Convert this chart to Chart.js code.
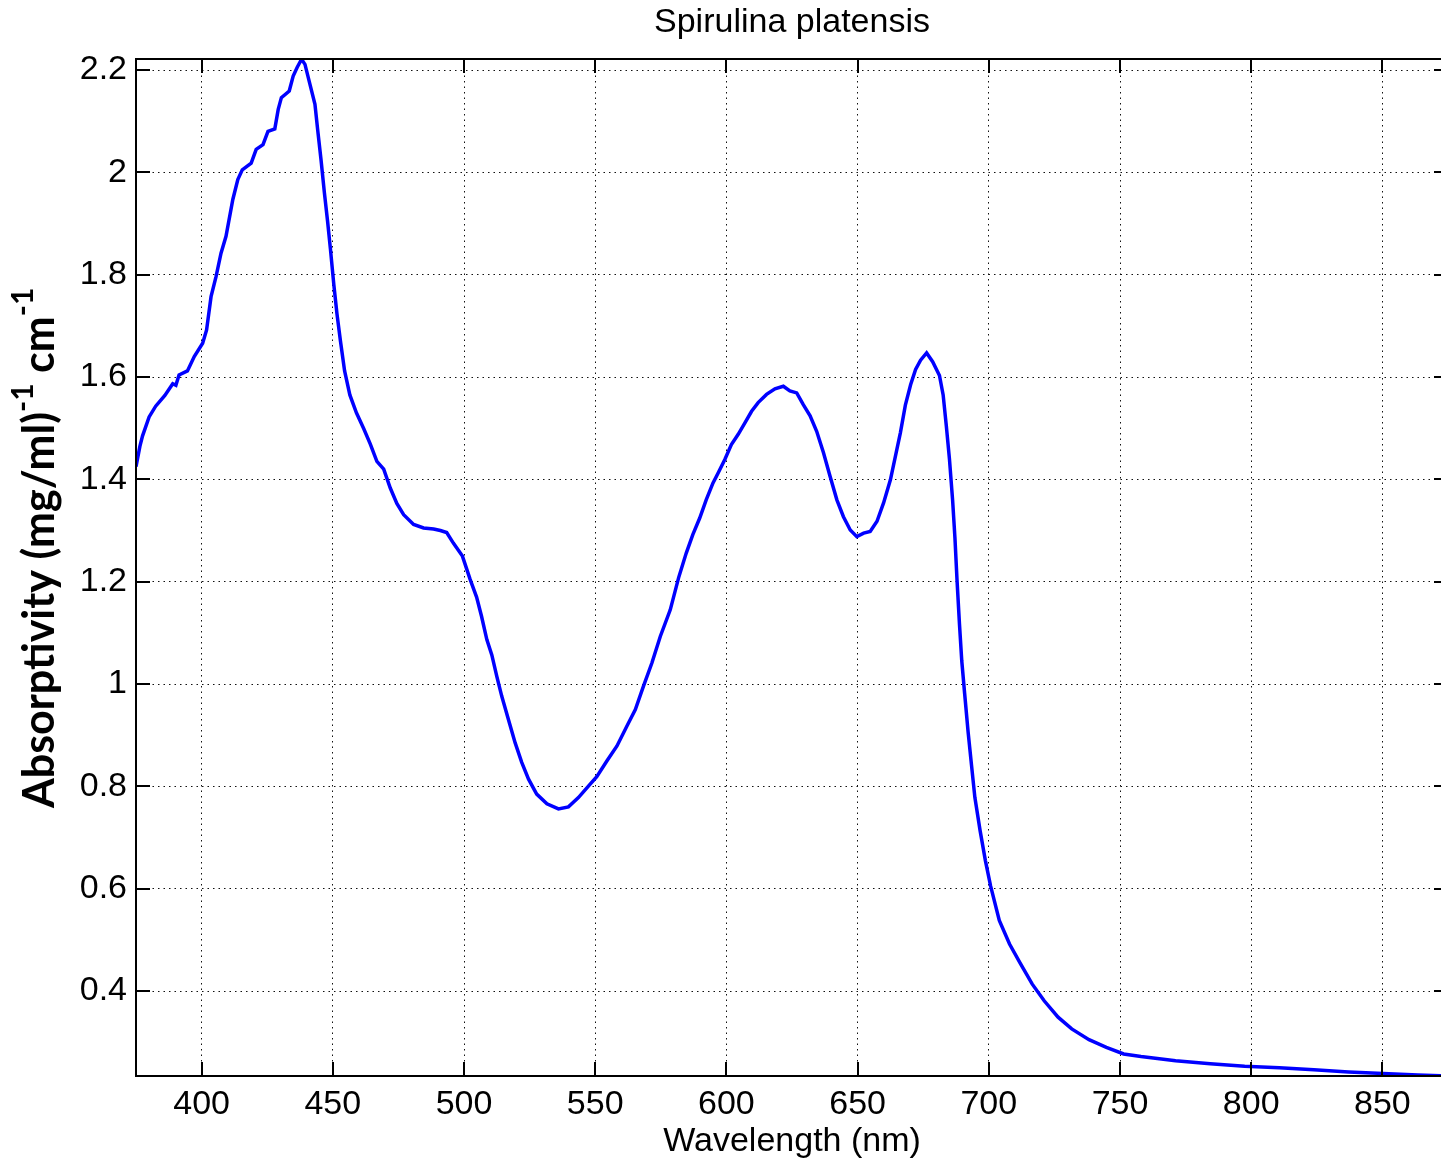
<!DOCTYPE html>
<html>
<head>
<meta charset="utf-8">
<title>Spirulina platensis</title>
<script src="https://cdn.jsdelivr.net/npm/chart.js@4.4.1/dist/chart.umd.min.js"></script>
<style>
  html, body { margin: 0; padding: 0; background: #fff; overflow: hidden; }
  #wrap { position: relative; width: 1460px; height: 1164px; }
</style>
</head>
<body>
<div id="wrap"><canvas id="spectrum"></canvas></div>
<script>
// absorption spectrum, wavelength in nm
const wavelength = [
  375, 376.5, 377.5, 380, 382.5, 386, 389, 390.2, 391.4, 394.6, 397.2, 400.4, 401.9, 403.6, 405.5,
  407.4, 409.3, 411.9, 413.8, 415.5, 418.9, 420.8, 423.4, 425.3, 427.9, 429.2, 430.4, 433.4, 434.9,
  436.4, 438.1, 439.4, 441.3, 443.2, 444.3, 445.5, 446.8, 448, 449.1, 450.4, 451.6, 452.9, 454.5,
  456.5, 459, 461.8, 464.3, 466.8, 469.4, 471.9, 474.4, 477, 480.8, 484.6, 488.4, 491, 493.4, 496,
  499.4, 502.3, 504.8, 506.7, 508.7, 510.6, 512.5, 514.4, 516.9, 519.5, 522, 524.6, 527.7, 531.6,
  536, 539.8, 543.6, 547.5, 550.6, 554.5, 558.3, 562.1, 565.3, 568.4, 571.6, 574.8, 578.6, 581.8,
  584.7, 587.2, 589.8, 592.3, 594.9, 596.8, 599.4, 601.9, 604.5, 607, 609.6, 612.1, 615.3, 618.5,
  621.7, 624.2, 626.8, 629.3, 631.9, 634.4, 637, 639.5, 642.1, 644.6, 647.2, 649.7, 652.3, 654.8,
  657.4, 659.9, 662.5, 664.4, 666.3, 668.2, 670.2, 672.1, 674, 676.3, 678.6, 681.2, 682.6, 683.8,
  685, 686.2, 687.1, 687.9, 688.8, 689.7, 690.8, 692.1, 693.4, 694.7, 696.7, 698.7, 700.7, 704,
  707.9, 711.9, 716.5, 721.1, 726.4, 731.6, 738.2, 744.8, 751.4, 758, 771.2, 784.4, 797.5, 810.7,
  823.9, 837.1, 850.3, 863.5, 875
];
const absorptivity = [
  1.425, 1.465, 1.485, 1.522, 1.543, 1.564, 1.587, 1.584, 1.604, 1.612, 1.640, 1.666, 1.692, 1.757, 1.796,
  1.842, 1.875, 1.947, 1.986, 2.005, 2.018, 2.045, 2.054, 2.080, 2.085, 2.123, 2.146, 2.159, 2.188,
  2.205, 2.221, 2.211, 2.172, 2.133, 2.080, 2.025, 1.960, 1.905, 1.850, 1.780, 1.723, 1.671, 1.612,
  1.565, 1.530, 1.499, 1.469, 1.435, 1.420, 1.383, 1.353, 1.331, 1.312, 1.305, 1.303, 1.300, 1.296, 1.275,
  1.250, 1.205, 1.170, 1.132, 1.087, 1.057, 1.015, 0.976, 0.931, 0.885, 0.847, 0.814, 0.785, 0.766,
  0.756, 0.760, 0.778, 0.801, 0.819, 0.850, 0.879, 0.918, 0.950, 0.996, 1.041, 1.093, 1.145, 1.208,
  1.256, 1.292, 1.324, 1.360, 1.393, 1.412, 1.439, 1.468, 1.488, 1.510, 1.533, 1.550, 1.566, 1.577,
  1.582, 1.573, 1.569, 1.546, 1.524, 1.494, 1.452, 1.406, 1.360, 1.327, 1.301, 1.288, 1.295, 1.298,
  1.318, 1.354, 1.399, 1.445, 1.491, 1.545, 1.585, 1.615, 1.633, 1.647, 1.630, 1.603, 1.565, 1.505,
  1.440, 1.360, 1.285, 1.202, 1.119, 1.045, 0.981, 0.907, 0.842, 0.778, 0.713, 0.655, 0.605, 0.538,
  0.492, 0.455, 0.414, 0.381, 0.349, 0.326, 0.305, 0.290, 0.277, 0.272, 0.264, 0.258, 0.253, 0.250,
  0.246, 0.242, 0.239, 0.236, 0.234
];

const xTicks = [400, 450, 500, 550, 600, 650, 700, 750, 800, 850];
const yTicks = [0.4, 0.6, 0.8, 1, 1.2, 1.4, 1.6, 1.8, 2, 2.2];

const FONT = '"Liberation Sans", Arial, sans-serif';

// box around the plot with inward ticks on all four sides, title over the plot, rotated y label
const matlabFrame = {
  id: 'matlabFrame',
  afterDatasetsDraw(chart) {
    const { ctx, chartArea: a, scales } = chart;
    const tick = 14;
    ctx.save();
    ctx.strokeStyle = '#000';
    ctx.lineWidth = 2;
    ctx.strokeRect(a.left, a.top, a.right - a.left, a.bottom - a.top);
    ctx.beginPath();
    xTicks.forEach(v => {
      const px = Math.round(scales.x.getPixelForValue(v));
      ctx.moveTo(px, a.bottom); ctx.lineTo(px, a.bottom - tick);
      ctx.moveTo(px, a.top); ctx.lineTo(px, a.top + tick);
    });
    yTicks.forEach(v => {
      const py = Math.round(scales.y.getPixelForValue(v));
      ctx.moveTo(a.left, py); ctx.lineTo(a.left + tick, py);
      ctx.moveTo(a.right, py); ctx.lineTo(a.right - tick, py);
    });
    ctx.stroke();

    // title centred on the plot box
    ctx.fillStyle = '#000';
    ctx.font = '34px ' + FONT;
    ctx.textAlign = 'center';
    ctx.textBaseline = 'middle';
    ctx.fillText('Spirulina platensis', (a.left + a.right) / 2, 23);
    ctx.restore();

    // y axis title with superscripts
    const parts = [
      { t: 'Absorptivity (mg/ml)', sup: false },
      { t: '-1', sup: true },
      { t: ' cm', sup: false },
      { t: '-1', sup: true }
    ];
    ctx.save();
    ctx.fillStyle = '#000';
    ctx.textBaseline = 'alphabetic';
    ctx.textAlign = 'left';
    ctx.translate(54, 808);
    ctx.rotate(-Math.PI / 2);
    let x = 0;
    parts.forEach(p => {
      ctx.font = p.sup ? 'bold 30px Lato, sans-serif' : 'bold 43px Lato, sans-serif';
      ctx.fillText(p.t, x, p.sup ? -21 : 0);
      x += ctx.measureText(p.t).width;
    });
    ctx.restore();
  }
};

new Chart(document.getElementById('spectrum'), {
  type: 'line',
  data: {
    datasets: [{
      data: wavelength.map((w, i) => ({ x: w, y: absorptivity[i] })),
      borderColor: '#0000ff',
      borderWidth: 3.5,
      pointRadius: 0,
      tension: 0,
      fill: false
    }]
  },
  options: {
    responsive: true,
    maintainAspectRatio: false,
    animation: false,
    layout: { padding: { left: 56, right: 12, top: 59, bottom: 0 } },
    plugins: {
      legend: { display: false },
      tooltip: { enabled: false },
      title: { display: false }
    },
    scales: {
      x: {
        type: 'linear',
        min: 375,
        max: 875,
        afterBuildTicks: s => { s.ticks = xTicks.map(v => ({ value: v })); },
        afterFit: s => { s.height = 88; },
        grid: { color: '#111', lineWidth: 1, drawTicks: false },
        border: { display: false, dash: [1.5, 4] },
        ticks: {
          color: '#000',
          padding: 8,
          maxRotation: 0,
          font: { family: FONT, size: 34 },
          callback: v => String(v)
        },
        title: {
          display: true,
          text: 'Wavelength (nm)',
          color: '#000',
          font: { family: FONT, size: 34 },
          padding: { top: 0, bottom: 1.6 }
        }
      },
      y: {
        type: 'linear',
        min: 0.234,
        max: 2.2215,
        afterBuildTicks: s => { s.ticks = yTicks.map(v => ({ value: v })); },
        afterFit: s => { s.width = 80; },
        grid: { color: '#111', lineWidth: 1, drawTicks: false },
        border: { display: false, dash: [1.5, 4] },
        ticks: {
          color: '#000',
          padding: 9,
          font: { family: FONT, size: 34 },
          callback: v => String(v)
        }
      }
    }
  },
  plugins: [matlabFrame]
});
</script>
</body>
</html>
